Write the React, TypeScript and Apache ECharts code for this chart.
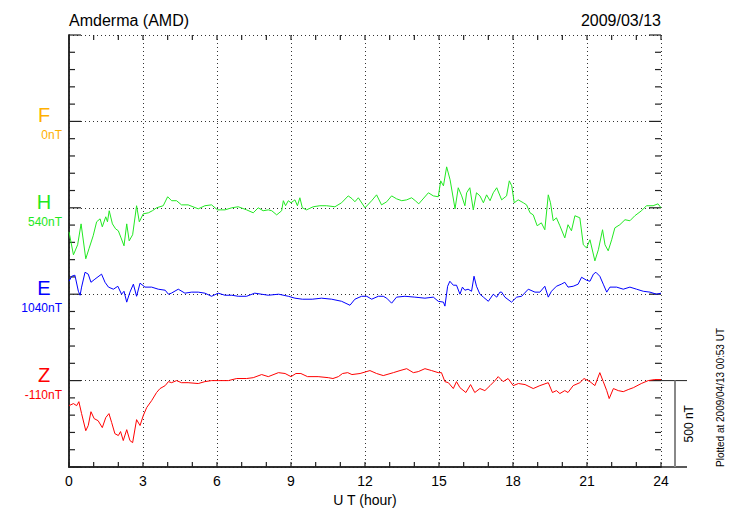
import React, { useEffect, useRef } from "react";
import * as echarts from "echarts";

const TITLE_LEFT = "Amderma (AMD)";
const TITLE_RIGHT = "2009/03/13";
const X_NAME = "U T (hour)";
const PLOTTED = "Plotted at 2009/04/13 00:53 UT";
const SCALE_LABEL = "500 nT";

const COMPONENTS = ["F", "H", "E", "Z"];
const BASE_LABELS = ["0nT", "540nT", "1040nT", "-110nT"];
const COLORS = ["#ffb000", "#22e822", "#0000ff", "#ff0000"];
const OFFSETS = [2000, 1500, 1000, 500];

// deviations from baseline, [hour, nT]
const F_DEV: number[][] = [];

const H_DEV: number[][] = [
  [0, -139], [0.18, -272], [0.35, -214], [0.49, -93], [0.68, -295], [0.81, -237], [0.98, -162], [1.12, -81],
  [1.26, -64], [1.35, -110], [1.49, -52], [1.56, -81], [1.63, -17], [1.76, -93], [1.89, -122], [2.0, -133],
  [2.11, -174], [2.23, -220], [2.34, -93], [2.44, -191], [2.58, -156], [2.74, 12], [2.85, -81], [3.01, -35],
  [3.22, -29], [3.38, -17], [3.55, 0], [3.82, 12], [4.0, 64], [4.16, 41], [4.36, 41], [4.56, 17], [4.83, 17],
  [5.24, -6], [5.51, 12], [5.78, 17], [6.02, -12], [6.32, -12], [6.6, 0], [6.86, 6], [7.2, -12], [7.47, -29],
  [7.67, 0], [7.87, -17], [8.08, -12], [8.22, -17], [8.42, -41], [8.62, -17], [8.69, 41], [8.78, 12], [8.89, 41],
  [9.0, 29], [9.16, 46], [9.26, 12], [9.36, 58], [9.46, 0], [9.63, -12], [9.9, 6], [10.17, 12], [10.44, 12],
  [10.78, 6], [11.05, 29], [11.32, 69], [11.48, 52], [11.59, 35], [11.73, 58], [12.0, 0], [12.27, 41], [12.47, 75],
  [12.67, 17], [12.88, 35], [13.08, 69], [13.28, 52], [13.49, 41], [13.69, 46], [13.89, 58], [14.04, 41],
  [14.18, 23], [14.57, 87], [14.77, 69], [14.97, 64], [15.07, 156], [15.18, 127], [15.31, 237], [15.45, 162],
  [15.65, -6], [15.78, 116], [15.92, 69], [16.05, 12], [16.12, 87], [16.25, 116], [16.39, -12], [16.52, 87],
  [16.66, 69], [16.8, 29], [16.93, 75], [17.07, 41], [17.2, 87], [17.34, 116], [17.54, 46], [17.74, 69],
  [17.85, 156], [17.95, 127], [18.05, 29], [18.21, 46], [18.42, 29], [18.55, 17], [18.69, -29], [18.82, -41],
  [18.98, -104], [19.15, -87], [19.29, -127], [19.43, 75], [19.52, 29], [19.63, -75], [19.76, -58], [19.9, -104],
  [20.1, -174], [20.23, -98], [20.37, -133], [20.51, -46], [20.71, -58], [20.85, -214], [20.98, -232],
  [21.12, -185], [21.32, -307], [21.46, -243], [21.63, -127], [21.73, -214], [21.86, -249], [22.0, -185],
  [22.13, -116], [22.33, -98], [22.54, -69], [22.74, -75], [22.94, -46], [23.21, -17], [23.41, 12], [23.68, 12],
  [23.88, 23], [24.0, 0],
];

const E_DEV: number[][] = [
  [0, 75], [0.11, 104], [0.24, 110], [0.38, 17], [0.45, -6], [0.51, 41], [0.65, 127], [0.78, 116], [0.89, 69],
  [1.05, 87], [1.32, 116], [1.46, 69], [1.6, 41], [1.8, 29], [1.98, 46], [2.13, 0], [2.23, 17], [2.34, -46],
  [2.47, 12], [2.61, 58], [2.74, -12], [2.88, 64], [3.08, 41], [3.35, 41], [3.62, 29], [3.9, 23], [4.03, 0],
  [4.15, 6], [4.43, 29], [4.7, 6], [4.97, 12], [5.24, 12], [5.51, 6], [5.78, -12], [6.05, 6], [6.32, -6],
  [6.6, -6], [6.86, -12], [7.2, -12], [7.53, 6], [7.8, 0], [8.08, -6], [8.5, 0], [8.89, -12], [9.16, -23],
  [9.46, -29], [9.86, -29], [10.24, -23], [10.65, -29], [11.05, -41], [11.39, -64], [11.59, -29], [11.86, -12],
  [12.07, -12], [12.27, -29], [12.54, -12], [12.74, -12], [12.88, -23], [13.08, -52], [13.28, -17], [13.62, -12],
  [14.02, -17], [14.43, -23], [14.77, -17], [14.97, -41], [15.18, -46], [15.24, -69], [15.35, 46], [15.44, 75],
  [15.58, 52], [15.71, 52], [15.85, 0], [15.95, 41], [16.05, 23], [16.18, 29], [16.32, 17], [16.42, 104],
  [16.52, 46], [16.66, 0], [16.8, -17], [17.0, -41], [17.2, 0], [17.34, -17], [17.47, 12], [17.54, 12],
  [17.67, -17], [17.94, -46], [18.15, -17], [18.35, -12], [18.62, 29], [18.89, 12], [19.09, 12], [19.29, 46],
  [19.43, -17], [19.56, 17], [19.76, 46], [19.96, 58], [20.1, 69], [20.23, 41], [20.44, 46], [20.64, 58],
  [20.78, 98], [20.98, 81], [21.12, 75], [21.26, 116], [21.36, 127], [21.52, 104], [21.66, 58], [21.8, 12],
  [21.93, 41], [22.2, 41], [22.47, 29], [22.74, 41], [23.01, 29], [23.28, 17], [23.55, 12], [23.82, 0], [24, 6],
];

const Z_DEV: number[][] = [
  [0, -145], [0.18, -133], [0.31, -145], [0.4, -122], [0.51, -191], [0.68, -290], [0.78, -260], [0.89, -180],
  [1.02, -220], [1.18, -232], [1.35, -272], [1.49, -214], [1.62, -191], [1.73, -243], [1.86, -307], [2.0, -318],
  [2.09, -295], [2.2, -347], [2.34, -284], [2.47, -347], [2.58, -359], [2.74, -226], [2.88, -260], [3.01, -203],
  [3.15, -156], [3.35, -116], [3.55, -69], [3.69, -46], [3.9, -29], [4.03, -6], [4.16, -12], [4.36, 0],
  [4.56, -12], [4.83, -12], [5.24, -17], [5.51, -6], [5.78, 0], [6.05, 0], [6.46, 0], [6.8, 12], [7.2, 12],
  [7.47, 17], [7.81, 35], [8.08, 23], [8.49, 46], [8.76, 41], [9.0, 23], [9.2, 41], [9.4, 41], [9.67, 23],
  [10.1, 23], [10.51, 17], [10.7, 12], [10.92, 23], [11.09, 41], [11.3, 46], [11.47, 35], [11.8, 41], [12.2, 58],
  [12.47, 41], [12.74, 29], [13.15, 46], [13.42, 58], [13.69, 69], [13.96, 46], [14.16, 52], [14.43, 69],
  [14.7, 58], [14.97, 46], [15.1, 46], [15.24, -6], [15.38, -12], [15.58, -46], [15.71, -6], [15.85, -41],
  [16.09, -69], [16.28, -23], [16.45, -69], [16.66, -46], [16.86, -58], [17.07, -29], [17.27, 0], [17.4, 23],
  [17.6, -6], [17.8, 12], [18.01, -29], [18.22, -17], [18.49, -23], [18.82, -46], [19.09, -29], [19.43, -12],
  [19.6, -69], [19.76, -58], [19.9, -75], [20.1, -58], [20.23, -69], [20.44, -29], [20.71, -12], [20.88, 12],
  [21.12, -6], [21.32, -29], [21.52, 46], [21.66, -6], [21.8, -58], [21.9, -104], [22.07, -46], [22.27, -58],
  [22.47, -64], [22.67, -52], [22.88, -41], [23.2, -17], [23.48, 0], [23.75, 6], [24, 6],
];

const DEVS = [F_DEV, H_DEV, E_DEV, Z_DEV];
const SCALE_NT = 500;
const Y_MAX = 2500;
const Y_MINOR = 100;
const Y_MAJOR = 500;
const X_MAX = 24;
const X_MINOR = 1;
const FONT = "'Liberation Sans', Arial, Helvetica, sans-serif";
const AXIS_COLOR = "#222";
const GRID_COLOR = "#333";

export default function App() {
  const ref = useRef<HTMLDivElement>(null);
  useEffect(() => {
    document.body.style.margin = "0";
    const chart = echarts.init(ref.current!, undefined, { renderer: "svg" });
    const xCommon = {
      type: "value",
      min: 0,
      max: X_MAX,
      interval: 3,
      axisLine: { show: true, lineStyle: { color: AXIS_COLOR, width: 1.5 } },
      axisTick: { show: false },
      minorTick: { show: false },
      splitLine: { show: false },
    };
    const yCommon = {
      type: "value",
      min: 0,
      max: Y_MAX,
      interval: Y_MAJOR,
      axisLine: { show: true, lineStyle: { color: AXIS_COLOR, width: 1.5 } },
      axisTick: { show: false },
      minorTick: { show: false },
      axisLabel: { show: false },
      splitLine: { show: false },
    };
    chart.setOption({
      animation: false,
      grid: { left: 69, right: 69, top: 35, bottom: 53 },
      xAxis: [
        {
          ...xCommon,
          position: "bottom",
          name: X_NAME,
          nameLocation: "middle",
          nameGap: 22,
          nameTextStyle: { color: "#000", fontSize: 14, fontFamily: FONT },
          axisLabel: { color: "#000", fontSize: 14, fontFamily: FONT, margin: 7 },
          splitLine: { show: true, lineStyle: { color: GRID_COLOR, type: [1, 3], width: 1 } },
        },
        { ...xCommon, position: "top", axisLabel: { show: false } },
      ],
      yAxis: [
        {
          ...yCommon,
          position: "left",
          splitLine: { show: true, lineStyle: { color: GRID_COLOR, type: [1, 3], width: 1 } },
        },
        { ...yCommon, position: "right" },
      ],
      series: COMPONENTS.map((c, i) => ({
        name: c,
        type: "line",
        showSymbol: false,
        symbol: "none",
        xAxisIndex: 0,
        yAxisIndex: 0,
        lineStyle: { color: COLORS[i], width: 1 },
        itemStyle: { color: COLORS[i] },
        data: DEVS[i].map(([t, v]) => [t, OFFSETS[i] + v]),
      })),
    });

    const px = (t: number, v: number) => chart.convertToPixel({ gridIndex: 0 }, [t, v]) as number[];
    const [x0, yTop] = px(0, Y_MAX);
    const [x24, yBottom] = px(X_MAX, 0);
    const graphics: any[] = [
      {
        type: "text",
        x: x0,
        y: 20,
        style: { text: TITLE_LEFT, fill: "#000", font: `16px ${FONT}`, align: "left", verticalAlign: "middle" },
      },
      {
        type: "text",
        x: x24,
        y: 20,
        style: { text: TITLE_RIGHT, fill: "#000", font: `16px ${FONT}`, align: "right", verticalAlign: "middle" },
      },
    ];
    // inside ticks on all four sides
    for (let v = 0; v <= Y_MAX; v += Y_MINOR) {
      const [, y] = px(0, v);
      const len = v % Y_MAJOR === 0 ? 12 : 6;
      graphics.push(
        { type: "line", shape: { x1: x0, y1: y, x2: x0 + len, y2: y }, style: { stroke: AXIS_COLOR, lineWidth: 1.2 } },
        { type: "line", shape: { x1: x24 - len, y1: y, x2: x24, y2: y }, style: { stroke: AXIS_COLOR, lineWidth: 1.2 } }
      );
    }
    for (let t = 0; t <= X_MAX; t += X_MINOR) {
      const [x] = px(t, 0);
      graphics.push(
        { type: "line", shape: { x1: x, y1: yBottom, x2: x, y2: yBottom - 5 }, style: { stroke: AXIS_COLOR, lineWidth: 1.2 } },
        { type: "line", shape: { x1: x, y1: yTop, x2: x, y2: yTop + 5 }, style: { stroke: AXIS_COLOR, lineWidth: 1.2 } }
      );
    }
    COMPONENTS.forEach((c, i) => {
      const [, yb] = px(0, OFFSETS[i]);
      graphics.push({
        type: "text",
        x: x0 - 25,
        y: yb - 6,
        style: { text: c, fill: COLORS[i], font: `20px ${FONT}`, align: "center", verticalAlign: "middle" },
      });
      graphics.push({
        type: "text",
        x: x0 - 7,
        y: yb + 14,
        style: { text: BASE_LABELS[i], fill: COLORS[i], font: `12px ${FONT}`, align: "right", verticalAlign: "middle" },
      });
    });
    const [, yZ] = px(X_MAX, OFFSETS[3]);
    const [, yZs] = px(X_MAX, OFFSETS[3] - SCALE_NT);
    graphics.push(
      { type: "line", shape: { x1: x24, y1: yZ, x2: x24 + 26, y2: yZ }, style: { stroke: AXIS_COLOR, lineWidth: 1 } },
      { type: "line", shape: { x1: x24, y1: yBottom, x2: x24 + 26, y2: yBottom }, style: { stroke: AXIS_COLOR, lineWidth: 1.5 } },
      { type: "line", shape: { x1: x24 + 14, y1: yZ, x2: x24 + 14, y2: yZs }, style: { stroke: "#888", lineWidth: 2 } },
      {
        type: "text",
        x: x24 + 28,
        y: (yZ + yZs) / 2,
        rotation: Math.PI / 2,
        style: { text: SCALE_LABEL, fill: "#000", font: `12px ${FONT}`, align: "center", verticalAlign: "middle" },
      },
      {
        type: "text",
        x: 720,
        y: yBottom,
        rotation: Math.PI / 2,
        style: { text: PLOTTED, fill: "#000", font: `10px ${FONT}`, align: "left", verticalAlign: "middle" },
      }
    );
    chart.setOption({ graphic: graphics });
    return () => chart.dispose();
  }, []);
  return <div ref={ref} style={{ width: 730, height: 520 }} />;
}
